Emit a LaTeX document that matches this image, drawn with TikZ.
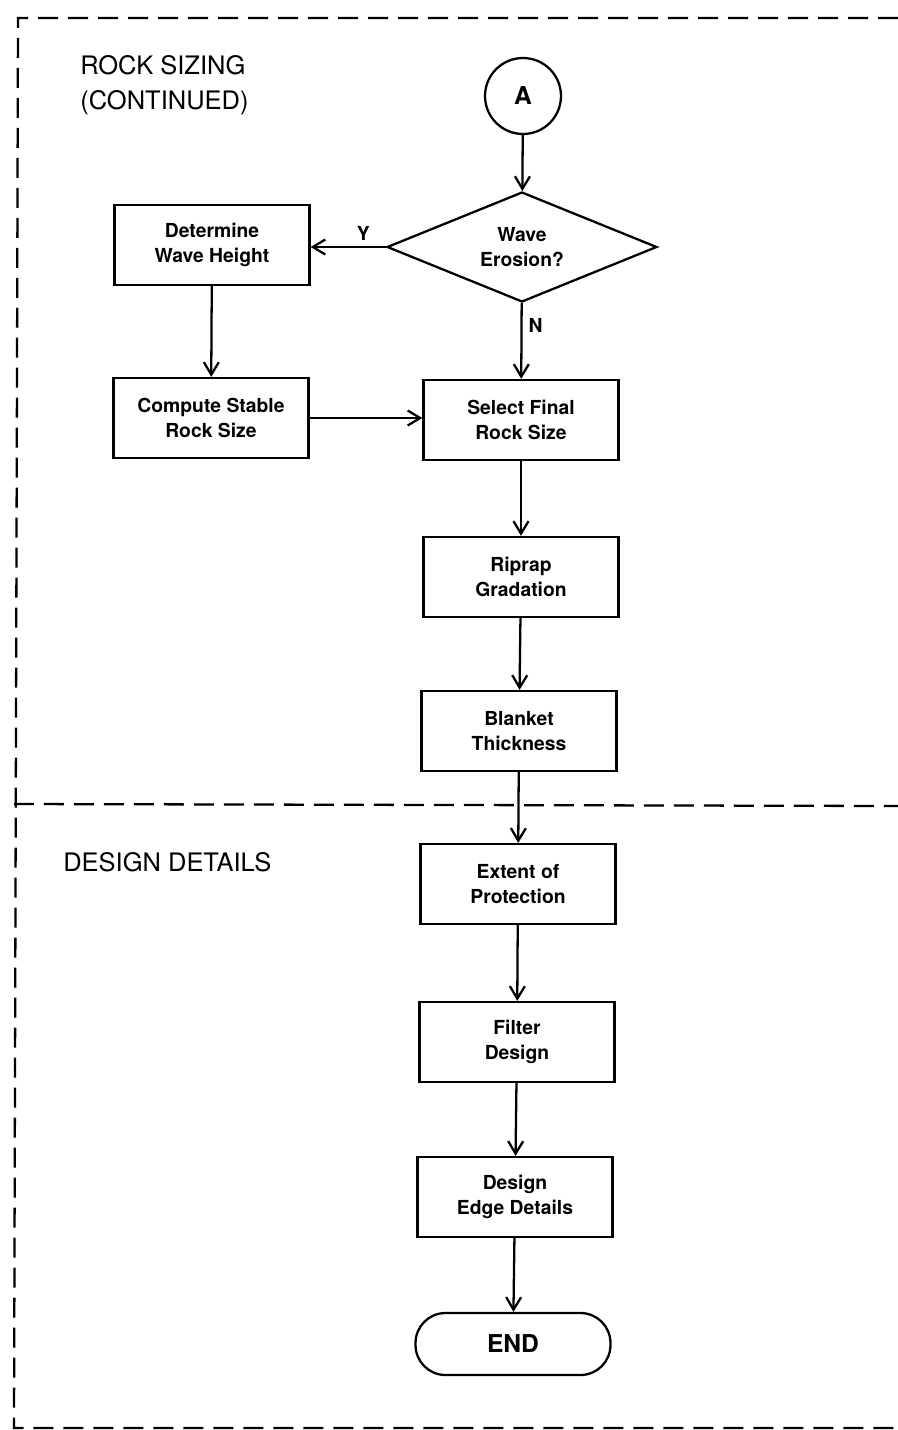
\documentclass[tikz,border=0pt]{standalone}
\usepackage{fontspec}
\setmainfont{TeX Gyre Heros}
\usetikzlibrary{arrows.meta,shapes.geometric}

\begin{document}
\begin{tikzpicture}[x=0.02cm,y=-0.02cm,
                every node/.style={align=center,font=\bfseries\fontsize{11}{14}\selectfont},
                process/.style={draw,line width=1.3pt,minimum width=3.9cm,minimum height=1.6cm},
                decision/.style={draw,diamond,aspect=2.45,line width=1.3pt,minimum width=5.4cm,minimum height=2.2cm,inner sep=0pt},
                connector/.style={draw,circle,line width=1.3pt,minimum size=1.52cm,font=\bfseries\fontsize{14}{16}\selectfont},
                terminal/.style={draw,rounded corners=0.6cm,line width=1.3pt,minimum width=3.9cm,minimum height=1.24cm,font=\bfseries\fontsize{14}{16}\selectfont},
                heading/.style={anchor=north west,align=left,inner sep=0pt,font=\fontsize{14.5}{20}\selectfont},
                flow/.style={-{Straight Barb[length=2.5mm,width=3mm]},line width=1.3pt},
                frame/.style={line width=1.3pt,dash pattern=on 0.4cm off 0.2cm}
            ]
                \useasboundingbox (0,0) rectangle (898,1430);
                % section frames
                \draw[frame] (898,18) -- (18,18) -- (14,1428) -- (898,1428);
                \draw[frame] (14,804) -- (898,806);
                \node[heading] (rocksizing) at (80,55) {ROCK SIZING\\(CONTINUED)};
                \node[heading] (designdetails) at (63,852) {DESIGN DETAILS};
                % rock sizing
                \node[connector] (A) at (523,96) {A};
                \node[decision] (wave) at (522,247) {Wave\\Erosion?};
                \node[process] (height) at (212,245) {Determine\\Wave Height};
                \node[process] (stable) at (211,418) {Compute Stable\\Rock Size};
                \node[process] (select) at (521,420) {Select Final\\Rock Size};
                \node[process] (riprap) at (521,577) {Riprap\\Gradation};
                \node[process] (blanket) at (519,731) {Blanket\\Thickness};
                % design details
                \node[process] (extent) at (518,884) {Extent of\\Protection};
                \node[process] (filter) at (517,1042) {Filter\\Design};
                \node[process] (edge) at (515,1197) {Design\\Edge Details};
                \node[terminal] (end) at (513,1344) {END};
                % connectors
                \draw[flow] (A) -- (wave);
                \draw[flow] (wave.west) -- node[pos=0.3,above] {Y} (height.east |- wave.west);
                \draw[flow] (wave) -- node[pos=0.3,right] {N} (select);
                \draw[flow] (height) -- (stable);
                \draw[flow] (stable) -- (select.west |- stable);
                \draw[flow] (select) -- (riprap);
                \draw[flow] (riprap) -- (blanket);
                \draw[flow] (blanket) -- (extent);
                \draw[flow] (extent) -- (filter);
                \draw[flow] (filter) -- (edge);
                \draw[flow] (edge) -- (end);
            \end{tikzpicture}
\end{document}
